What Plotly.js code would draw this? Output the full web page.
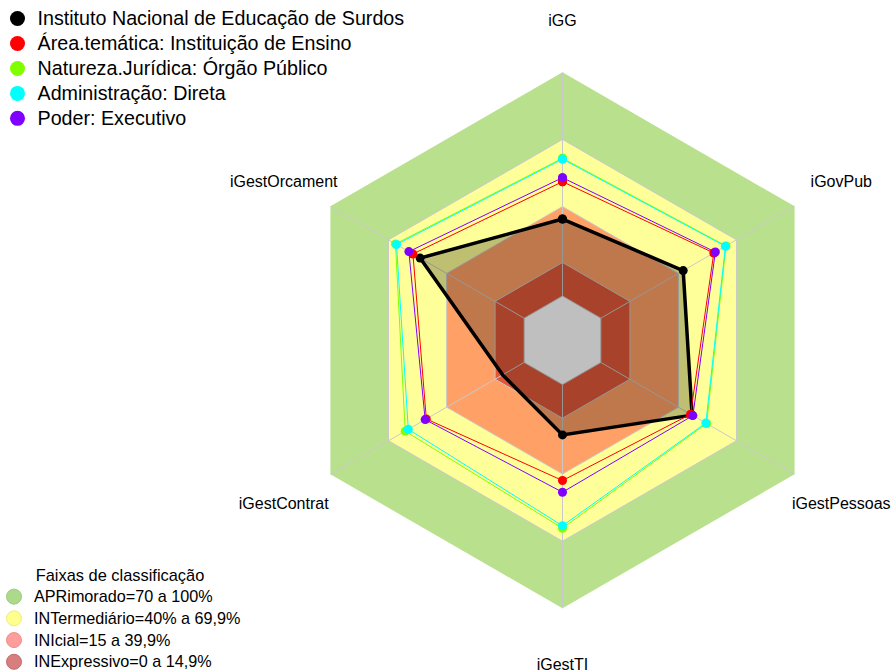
<!DOCTYPE html>
<html>
<head>
<meta charset="utf-8">
<script src="https://cdn.plot.ly/plotly-3.0.1.min.js"></script>
<style>html,body{margin:0;padding:0;background:#fff;}#chart{width:895px;height:672px;}</style>
</head>
<body>
<div id="chart"></div>
<script>
// ---- data ----
const categories = ['iGG', 'iGovPub', 'iGestPessoas', 'iGestTI', 'iGestContrat', 'iGestOrcament'];

const seriesNames = [
  'Instituto Nacional de Educação de Surdos',
  'Área.temática: Instituição de Ensino',
  'Natureza.Jurídica: Órgão Público',
  'Administração: Direta',
  'Poder: Executivo'
];
const instituto        = [34.4, 42.5, 47.1, 22.5, 11.1, 53.7];
const areaTematica     = [51.1, 58.3, 46.3, 42.9, 50.5, 57.4];
const naturezaJuridica = [61.6, 64.6, 54.6, 64.2, 61.4, 66.4];
const administracao    = [61.2, 64.3, 54.2, 63.1, 59.8, 65.9];
const poder            = [52.9, 59.1, 47.5, 48.1, 51.1, 59.5];
const seriesColors = ['#000000', '#FF0000', '#80FF00', '#00FFFF', '#8000FF'];

const legendTitle = 'Faixas de classificação';
const bandNames = ['APRimorado=70 a 100%', 'INTermediário=40% a 69,9%', 'INIcial=15 a 39,9%', 'INExpressivo=0 a 14,9%'];
const bandUpper = [100, 70, 40, 15];
const bandFill = ['#B9E08D', '#FFFF99', '#FFA066', '#E05838'];
const bandLegendColors = ['#ACDA8A', '#FFFF8E', '#FF9C9C', '#D97E7E'];
const bandLegendLines = ['#9CCB7A', '#EDED7E', '#F08C8C', '#C46A6A'];
const centerValue = 0;
const gridLevels = [0, 15, 40, 70];
const radialRange = [-19.8, 126];
const labelRadius = 124.1;

// ---- helpers ----
const closedTheta = categories.concat([categories[0]]);
const closeR = arr => arr.concat([arr[0]]);
const constR = v => closedTheta.map(() => v);
const sized = (txt, px) => '<span style="font-size:' + px + 'px">' + txt + '</span>';

const traces = [];

// background bands (hexagons)
bandUpper.forEach((v, i) => {
  traces.push({
    type: 'scatterpolar', mode: 'lines', r: constR(v), theta: closedTheta,
    fill: 'toself', fillcolor: bandFill[i], line: {width: 0, color: bandFill[i]},
    hoverinfo: 'skip', showlegend: false
  });
});
traces.push({
  type: 'scatterpolar', mode: 'lines', r: constR(centerValue), theta: closedTheta,
  fill: 'toself', fillcolor: '#FFFFFF', line: {width: 0, color: '#FFFFFF'},
  hoverinfo: 'skip', showlegend: false
});

// grid hexagons
gridLevels.forEach(v => {
  traces.push({
    type: 'scatterpolar', mode: 'lines', r: constR(v), theta: closedTheta,
    line: {width: 1, color: '#C9C9C9'}, hoverinfo: 'skip', showlegend: false
  });
});
// spokes
categories.forEach(c => {
  traces.push({
    type: 'scatterpolar', mode: 'lines', r: [0, 100], theta: [c, c],
    line: {width: 1, color: '#C9C9C9'}, hoverinfo: 'skip', showlegend: false
  });
});

// series
const seriesData = [instituto, areaTematica, naturezaJuridica, administracao, poder];
seriesData.forEach((d, i) => {
  const t = {
    type: 'scatterpolar', mode: 'lines+markers', name: seriesNames[i],
    r: closeR(d), theta: closedTheta,
    line: {color: seriesColors[i], width: i === 0 ? 3.5 : 1},
    marker: {color: seriesColors[i], size: 9},
    showlegend: false
  };
  if (i === 0) { t.fill = 'toself'; t.fillcolor = 'rgba(0,0,0,0.25)'; }
  traces.push(t);
});

// category labels
traces.push({
  type: 'scatterpolar', mode: 'text', r: categories.map(() => labelRadius), theta: categories,
  text: categories.map(c => sized(c, 16)), textposition: 'middle center',
  textfont: {size: 30, color: '#000', family: 'Liberation Sans, Arial, sans-serif'},
  cliponaxis: false, hoverinfo: 'skip', showlegend: false
});

// legend entries - series
seriesNames.forEach((n, i) => {
  traces.push({
    type: 'scatterpolar', mode: 'markers', name: sized(n, 19.7), r: [null], theta: [null],
    marker: {color: seriesColors[i], size: 15}, legend: 'legend', showlegend: true
  });
});
// legend entries - bands
bandNames.forEach((n, i) => {
  traces.push({
    type: 'scatterpolar', mode: 'markers', name: sized(n, 16.2), r: [null], theta: [null],
    marker: {color: bandLegendColors[i], size: 15, line: {color: bandLegendLines[i], width: 1}},
    legend: 'legend2', showlegend: true
  });
});

const cx = 562.5, cyTop = 340.3, W = 895, H = 672;
const Rpx = (radialRange[1] - radialRange[0]) * 2.237;
const cyB = H - cyTop;

const layout = {
  width: W, height: H,
  margin: {l: 0, r: 0, t: 0, b: 0, autoexpand: false},
  paper_bgcolor: '#FFFFFF',
  font: {family: 'Liberation Sans, Arial, sans-serif', color: '#000'},
  showlegend: true,
  polar: {
    domain: {x: [(cx - Rpx) / W, (cx + Rpx) / W], y: [(cyB - Rpx) / H, (cyB + Rpx) / H]},
    gridshape: 'linear',
    bgcolor: 'rgba(0,0,0,0)',
    radialaxis: {visible: false, range: radialRange},
    angularaxis: {
      type: 'category', categoryorder: 'array', categoryarray: categories,
      direction: 'clockwise', rotation: 90,
      showgrid: false, showline: false, showticklabels: false, ticks: ''
    }
  },
  legend: {
    x: -0.0028, y: 0.9985, xanchor: 'left', yanchor: 'top',
    bgcolor: 'rgba(0,0,0,0)', font: {size: 16.9, color: '#000'},
    itemsizing: 'trace', tracegroupgap: 0
  },
  legend2: {
    x: -0.0067, y: -0.009, xanchor: 'left', yanchor: 'bottom',
    bgcolor: 'rgba(0,0,0,0)', font: {size: 14.4, color: '#000'},
    title: {text: sized(legendTitle, 16.4), side: 'top center', font: {size: 14.4, color: '#000'}},
    itemsizing: 'trace', tracegroupgap: 0
  }
};

Plotly.newPlot('chart', traces, layout, {displayModeBar: false, staticPlot: true});
</script>
</body>
</html>
